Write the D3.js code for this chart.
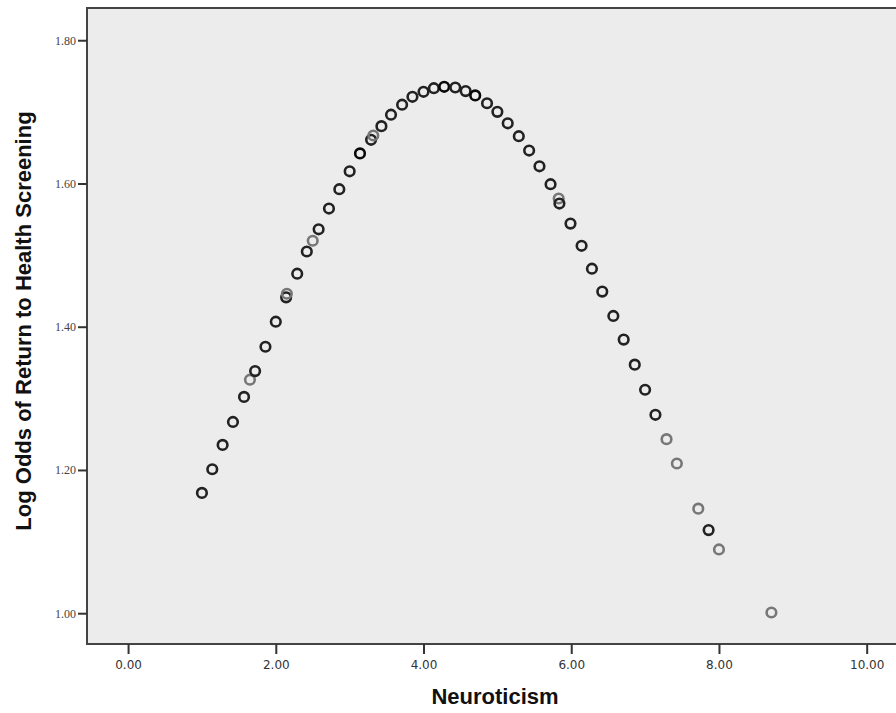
<!DOCTYPE html>
<html>
<head>
<meta charset="utf-8">
<script src="https://cdn.jsdelivr.net/npm/d3@7"></script>
<style>
	html, body { margin: 0; padding: 0; background: #fff; }
	svg { display: block; }
	.tick line { stroke: #333; stroke-width: 2; }
	.y-axis .tick text { font-family: "Liberation Serif", serif; font-size: 12px; fill: #444; }
	.x-axis .tick text { font-family: "DejaVu Sans", sans-serif; font-size: 12px; fill: #333; }
	.title { font-family: "Liberation Sans", Arial, sans-serif; font-weight: bold; font-size: 22px; fill: #111; }
</style>
</head>
<body>
<div class="js-scatter"></div>
<script>
// neuroticism score (x) and log odds (y)
var neuroticism = [1.00, 1.14, 1.28, 1.42, 1.57, 1.65, 1.72, 1.86, 2.00, 2.14, 2.15, 2.29, 2.42, 2.50, 2.58, 2.72, 2.86, 3.00, 3.14, 3.29, 3.32, 3.43, 3.56, 3.71, 3.85, 4.00, 4.14, 4.28, 4.43, 4.57, 4.70, 4.86, 5.00, 5.14, 5.29, 5.43, 5.57, 5.72, 5.83, 5.84, 5.99, 6.14, 6.28, 6.42, 6.57, 6.71, 6.86, 7.00, 7.14, 7.29, 7.43, 7.72, 7.86, 8.00, 8.71];
var logOdds = [1.168, 1.201, 1.235, 1.267, 1.302, 1.326, 1.338, 1.372, 1.407, 1.441, 1.446, 1.474, 1.505, 1.520, 1.536, 1.565, 1.592, 1.617, 1.642, 1.661, 1.667, 1.680, 1.696, 1.710, 1.721, 1.728, 1.733, 1.735, 1.734, 1.729, 1.723, 1.712, 1.700, 1.684, 1.666, 1.646, 1.624, 1.599, 1.579, 1.572, 1.544, 1.513, 1.481, 1.449, 1.415, 1.382, 1.347, 1.312, 1.277, 1.243, 1.209, 1.146, 1.116, 1.089, 1.001];
// how many cases sit on each point (darker rings = overlapping cases)
var caseCount = [2, 2, 2, 2, 2, 1, 2, 2, 2, 2, 1, 2, 2, 1, 2, 2, 2, 2, 3, 2, 1, 2, 2, 2, 2, 2, 2, 3, 2, 2, 3, 2, 2, 2, 2, 2, 2, 2, 1, 2, 2, 2, 2, 2, 2, 2, 2, 2, 2, 1, 1, 1, 2, 1, 1];

var xTicks = [0, 2, 4, 6, 8, 10];
var yTicks = [1.0, 1.2, 1.4, 1.6, 1.8];

scatterChart('.js-scatter');

function scatterChart(element) {
	var width = 896,
		height = 713,
		frame = { left: 87, right: 911, top: 8, bottom: 644 };

	var svg = d3.select(element).append('svg')
		.attr('width', width)
		.attr('height', height);

	var x = d3.scaleLinear()
		.domain([-0.556, 10.6])
		.range([frame.left, frame.right]);

	var y = d3.scaleLinear()
		.domain([0.957, 1.845])
		.range([frame.bottom, frame.top]);

	svg.append('rect')
		.attr('x', frame.left)
		.attr('y', frame.top)
		.attr('width', frame.right - frame.left)
		.attr('height', frame.bottom - frame.top)
		.attr('fill', '#ececec')
		.attr('stroke', '#444')
		.attr('stroke-width', 2);

	var yAxis = svg.append('g')
		.attr('class', 'y-axis')
		.attr('transform', 'translate(' + frame.left + ',0)')
		.call(d3.axisLeft(y).tickValues(yTicks).tickFormat(d3.format('.2f')).tickSize(9).tickPadding(2));
	yAxis.select('.domain').remove();

	var xAxis = svg.append('g')
		.attr('class', 'x-axis')
		.attr('transform', 'translate(0,' + frame.bottom + ')')
		.call(d3.axisBottom(x).tickValues(xTicks).tickFormat(d3.format('.2f')).tickSize(10).tickPadding(6));
	xAxis.select('.domain').remove();

	var ringColor = { 1: '#777', 2: '#222', 3: '#080808' };

	var points = neuroticism.map(function(d, i) {
		return { x: d, y: logOdds[i], n: caseCount[i] };
	});

	svg.append('g')
		.selectAll('circle')
		.data(points)
		.enter().append('circle')
		.attr('cx', function(d) { return x(d.x); })
		.attr('cy', function(d) { return y(d.y); })
		.attr('r', 4.8)
		.attr('fill', 'none')
		.attr('stroke', function(d) { return ringColor[d.n]; })
		.attr('stroke-width', 2.6);

	svg.append('text')
		.attr('class', 'title')
		.attr('text-anchor', 'middle')
		.attr('transform', 'translate(31,321) rotate(-90)')
		.text('Log Odds of Return to Health Screening');

	svg.append('text')
		.attr('class', 'title')
		.attr('text-anchor', 'middle')
		.attr('x', 495)
		.attr('y', 704)
		.text('Neuroticism');
}
</script>
</body>
</html>
